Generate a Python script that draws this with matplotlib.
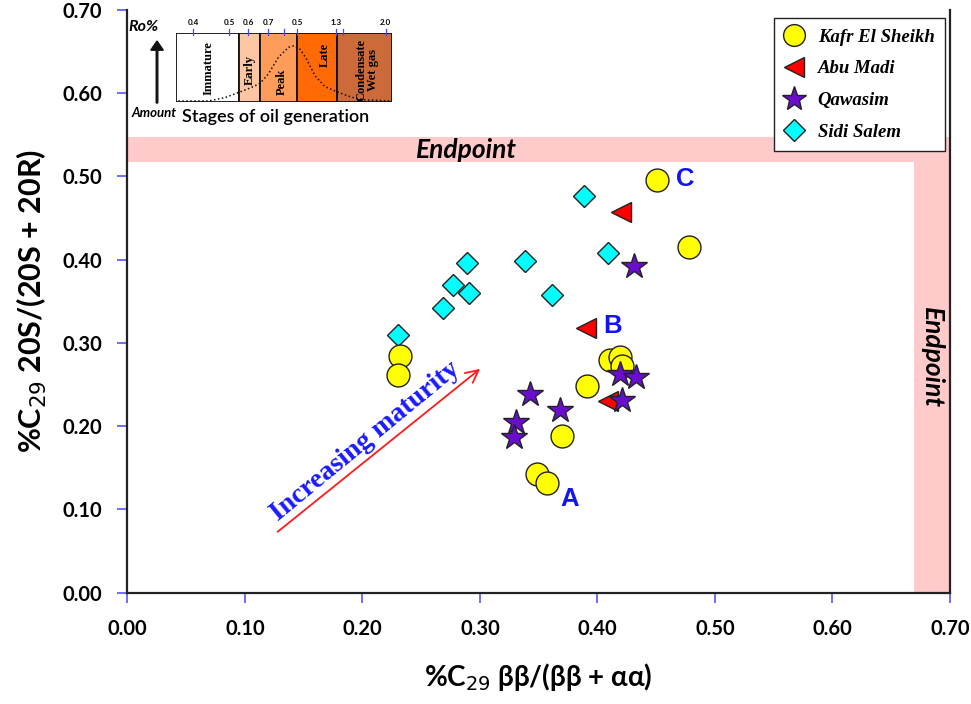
"""Sterane isomerisation cross-plot: C29 20S/(20S+20R) vs C29 bb/(bb+aa).

Samples from four fields, with the isomerisation endpoints shaded and a
small schematic of the oil-generation stages in the upper-left corner.
"""

import matplotlib
matplotlib.use("Agg")
import matplotlib.pyplot as plt  # noqa: E402
from matplotlib.patches import Rectangle, FancyArrow  # noqa: E402

# --- sample values -----------------------------------------------------------
kafr_x = [0.451, 0.478, 0.232, 0.230, 0.411, 0.419, 0.421, 0.391, 0.370, 0.349, 0.357]
kafr_y = [0.496, 0.415, 0.284, 0.261, 0.280, 0.283, 0.272, 0.248, 0.188, 0.143, 0.132]

abu_x = [0.420, 0.390, 0.409]
abu_y = [0.457, 0.318, 0.230]

qaw_x = [0.343, 0.368, 0.331, 0.329, 0.419, 0.433, 0.421, 0.431]
qaw_y = [0.239, 0.220, 0.205, 0.187, 0.263, 0.259, 0.231, 0.393]

sidi_x = [0.389, 0.289, 0.277, 0.291, 0.269, 0.338, 0.361, 0.409, 0.230]
sidi_y = [0.476, 0.396, 0.370, 0.360, 0.342, 0.399, 0.358, 0.408, 0.309]

ticks = [0.0, 0.1, 0.2, 0.3, 0.4, 0.5, 0.6, 0.7]

# equilibrium (endpoint) ranges
end_y = (0.517, 0.547)
end_x = (0.669, 0.70)

# --- oil generation schematic ------------------------------------------------
stage_names = ["Immature", "Early", "Peak", "Late", "Condensate\nWet gas"]
stage_edges = [0.0, 0.293, 0.390, 0.563, 0.748, 1.0]
stage_colors = ["#ffffff", "#fcc6a2", "#ff9c5a", "#ff6a06", "#cc6a3a"]
stage_text_xy = [(0.151, 0.49), (0.341, 0.47), (0.491, 0.30), (0.691, 0.69), (0.888, 0.47)]

ro_labels = ["0.4", "0.5", "0.6", "0.7", "0.5", "1.3", "2.0"]
ro_pos = [0.081, 0.248, 0.336, 0.429, 0.563, 0.741, 0.972]
ro_minor = [0.501, 0.776]

gen_curve_x = [0.012, 0.151, 0.228, 0.293, 0.352, 0.390, 0.429, 0.475, 0.522,
               0.548, 0.576, 0.606, 0.645, 0.691, 0.748, 0.815, 0.877, 1.0]
gen_curve_y = [0.019, 0.019, 0.068, 0.145, 0.217, 0.275, 0.411, 0.652, 0.797,
               0.821, 0.768, 0.623, 0.382, 0.227, 0.150, 0.072, 0.034, 0.019]

SANS = "Lato"
SERIF = "Liberation Serif"
TICK_BLUE = "#4646ff"
BAND = "#fecaca"


def draw_main(fig):
    ax = fig.add_axes([0.1311, 0.1581, 0.8473, 0.8277])
    ax.set_xlim(0, 0.70)
    ax.set_ylim(0, 0.70)

    ax.axhspan(end_y[0], end_y[1], color=BAND, lw=0, zorder=0)
    ax.axvspan(end_x[0], end_x[1], ymax=end_y[1] / 0.70, color=BAND, lw=0, zorder=0)
    ax.text(0.289, sum(end_y) / 2, "Endpoint", family=SANS, weight="bold",
            style="italic", fontsize=19, ha="center", va="center")
    ax.text(sum(end_x) / 2, 0.282, "Endpoint", family=SANS, weight="bold",
            style="italic", fontsize=19, ha="center", va="center", rotation=270)

    mk = dict(ls="none", markeredgecolor="#222222", markeredgewidth=1.0)
    h_sidi, = ax.plot(sidi_x, sidi_y, "D", ms=11.5, color="#00ffff", zorder=3,
                      label="Sidi Salem", **mk)
    h_kafr, = ax.plot(kafr_x, kafr_y, "o", ms=16.5, color="#ffff00", zorder=4,
                      label="Kafr El Sheikh", **mk)
    h_abu, = ax.plot(abu_x, abu_y, "<", ms=15, color="#ff0000", zorder=5,
                     label="Abu Madi", **mk)
    h_qaw, = ax.plot(qaw_x, qaw_y, "*", ms=19, color="#6a0dcc", zorder=6,
                     label="Qawasim", **mk)

    for lab, x, y in (("A", 0.376, 0.113), ("B", 0.4125, 0.320), ("C", 0.475, 0.497)):
        ax.text(x, y, lab, family="Liberation Sans", weight="bold", fontsize=18.5,
                color="#1414f0", ha="center", va="center", zorder=7)

    ax.annotate("", xy=(0.302, 0.271), xytext=(0.126, 0.071),
                arrowprops=dict(arrowstyle="->,head_length=0.9,head_width=0.45",
                                color="#ff1a1a", lw=1.3))
    ax.text(0.203, 0.182, "Increasing maturity", family=SERIF, weight="bold",
            fontsize=20, color="#1a1aff", rotation=39.4, rotation_mode="anchor",
            ha="center", va="center")

    ax.set_xticks(ticks)
    ax.set_yticks(ticks)
    ax.set_xticklabels([f"{t:.2f}" for t in ticks])
    ax.set_yticklabels([f"{t:.2f}" for t in ticks])
    ax.tick_params(direction="out", length=7, width=1.1, color=TICK_BLUE,
                   labelsize=14.5)
    ax.tick_params(axis="x", pad=12)
    ax.tick_params(axis="y", pad=11)
    for lbl in ax.get_xticklabels() + ax.get_yticklabels():
        lbl.set_family(SANS)
        lbl.set_weight("bold")
    ax.spines["top"].set_visible(False)
    for side in ("left", "right", "bottom"):
        ax.spines[side].set_linewidth(1.6)
        ax.spines[side].set_color("#222222")

    ax.set_xlabel(r"%C$_{29}$ ββ/(ββ + αα)", family=SANS, weight="bold",
                  fontsize=20, labelpad=16)
    ax.set_ylabel(r"%C$_{29}$ 20S/(20S + 20R)", family=SANS, weight="bold",
                  fontsize=22, labelpad=10)

    leg = ax.legend(handles=[h_kafr, h_abu, h_qaw, h_sidi], loc="upper right",
                    bbox_to_anchor=(0.973, 0.974), bbox_transform=fig.transFigure,
                    borderaxespad=0, frameon=True, fancybox=False, framealpha=1,
                    edgecolor="#222222", labelspacing=0.78, borderpad=0.55,
                    handletextpad=0.7, handlelength=1.1, markerscale=0.95,
                    prop=dict(family=SERIF, weight="bold", style="italic", size=13.5))
    leg.get_frame().set_linewidth(1.0)
    leg.set_zorder(10)
    return ax


def draw_stages(fig):
    ins = fig.add_axes([0.181, 0.8547, 0.2225, 0.098])
    ins.set_xlim(0, 1)
    ins.set_ylim(0, 1)
    ins.axis("off")
    for i, name in enumerate(stage_names):
        x0, x1 = stage_edges[i], stage_edges[i + 1]
        ins.add_patch(Rectangle((x0, 0), x1 - x0, 1, facecolor=stage_colors[i],
                                edgecolor="#111111", lw=1.3))
        tx, ty = stage_text_xy[i]
        ins.text(tx, ty, name, family=SERIF, weight="bold", fontsize=9,
                 rotation=90, ha="center", va="center", linespacing=0.95)
    ins.plot(gen_curve_x, gen_curve_y, color="#111111", lw=1.1,
             ls=(0, (1, 1.6)))
    for x in ro_pos + ro_minor:
        ins.plot([x, x], [0.97, 1.06], color=TICK_BLUE, lw=0.9, clip_on=False)
    for x, lab in zip(ro_pos, ro_labels):
        ins.text(x, 1.1, lab, family=SANS, weight="bold", fontsize=5.8,
                 ha="center", va="bottom")

    fig.text(0.1473, 0.9616, "Ro%", family=SANS, weight="bold", style="italic",
             fontsize=11.5, ha="center", va="center")
    fig.text(0.1586, 0.8395, "Amount", family=SANS, weight="bold", style="italic",
             fontsize=9.5, ha="center", va="center")
    fig.text(0.2840, 0.8338, "Stages of oil generation", family=SANS,
             weight="semibold", fontsize=13, ha="center", va="center")
    fig.patches.append(FancyArrow(
        0.1617, 0.8537, 0, 0.088, width=0.0016, head_width=0.013,
        head_length=0.013, length_includes_head=True, color="#111111",
        transform=fig.transFigure, figure=fig))


def main():
    fig = plt.figure(figsize=(9.71, 7.04), dpi=100)
    draw_main(fig)
    draw_stages(fig)
    fig.savefig("out.png", dpi=100)


if __name__ == "__main__":
    main()
